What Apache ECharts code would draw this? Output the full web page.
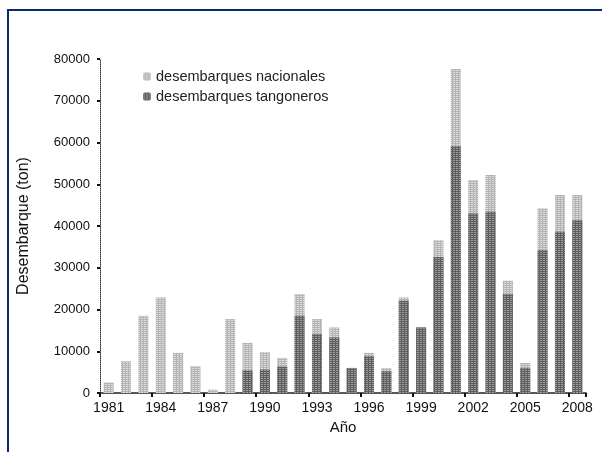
<!DOCTYPE html>
<html>
<head>
<meta charset="utf-8">
<script src="https://cdn.jsdelivr.net/npm/echarts@6/dist/echarts.min.js"></script>
<style>
  html, body { margin: 0; padding: 0; background: #fff; }
  #wrap { position: relative; width: 602px; height: 452px; overflow: hidden; }
  #frame { position: absolute; left: 7px; top: 9px; width: 620px; height: 470px; border: 2px solid #0b2a6a; }
  #chart { position: absolute; left: 0; top: 0; width: 602px; height: 452px; }
</style>
</head>
<body>
<div id="wrap">
  <div id="frame"></div>
  <div id="chart"></div>
</div>
<script>
// años y desembarques (ton)
var years = ['1981','1982','1983','1984','1985','1986','1987','1988','1989','1990',
             '1991','1992','1993','1994','1995','1996','1997','1998','1999','2000',
             '2001','2002','2003','2004','2005','2006','2007','2008'];
var nacionales = [2500, 7600, 18500, 22900, 9600, 6400, 800, 17700, 12000, 9800,
                  8400, 23700, 17700, 15700, 6000, 9600, 6000, 22900, 15700, 36600,
                  77600, 51000, 52200, 26900, 7200, 44200, 47400, 47400];
var tangoneros = [0, 0, 0, 0, 0, 0, 0, 0, 5400, 5600,
                  6300, 18500, 14100, 13300, 6000, 8800, 5200, 22100, 15700, 32600,
                  59100, 43000, 43400, 23700, 6000, 34200, 38600, 41400];

var font = 'Liberation Sans, Arial, sans-serif';

var chart = echarts.init(document.getElementById('chart'));

var option = {
    animation: false,
    textStyle: { fontFamily: font },
    grid: { left: 100, right: 16, top: 59, bottom: 59 },
    legend: {
        orient: 'vertical',
        left: 138, top: 64,
        itemWidth: 8, itemHeight: 8, itemGap: 5,
        textStyle: { fontSize: 14.5, color: '#222', fontFamily: font },
        data: ['desembarques nacionales', 'desembarques tangoneros']
    },
    xAxis: {
        type: 'category',
        data: years,
        name: 'Año',
        nameLocation: 'middle',
        nameGap: 27,
        nameTextStyle: { fontSize: 15, color: '#111' },
        axisLine: { lineStyle: { color: '#222', width: 1.5 } },
        axisTick: { show: true, length: 4, lineStyle: { color: '#111', width: 2 } },
        axisLabel: { interval: 2, fontSize: 14, color: '#111', margin: 8 }
    },
    yAxis: {
        type: 'value',
        min: 0, max: 80000, interval: 10000,
        name: 'Desembarque (ton)',
        nameLocation: 'middle',
        nameGap: 68,
        nameTextStyle: { fontSize: 16, color: '#111' },
        splitLine: { show: false },
        axisLine: { show: true, lineStyle: { color: '#333', width: 1, type: 'dotted' } },
        axisTick: { show: true, length: 3, lineStyle: { color: '#111', width: 2 } },
        axisLabel: { fontSize: 13, color: '#111', margin: 10, formatter: function (v) { return String(v); } }
    },
    series: [
        {
            name: 'desembarques nacionales',
            type: 'bar',
            data: nacionales,
            barWidth: 10,
            barGap: '-100%',
            itemStyle: {
                color: '#b4b4b4',
                decal: { symbol: 'rect', symbolSize: 1, dashArrayX: [2, 1], dashArrayY: [1, 1], color: 'rgba(255,255,255,0.55)' }
            }
        },
        {
            name: 'desembarques tangoneros',
            type: 'bar',
            data: tangoneros,
            barWidth: 10,
            barGap: '-100%',
            itemStyle: {
                color: '#5e5e5e',
                decal: { symbol: 'rect', symbolSize: 1, dashArrayX: [2, 1], dashArrayY: [1, 1], color: 'rgba(200,200,200,0.6)' }
            }
        }
    ]
};

chart.setOption(option);
</script>
</body>
</html>
